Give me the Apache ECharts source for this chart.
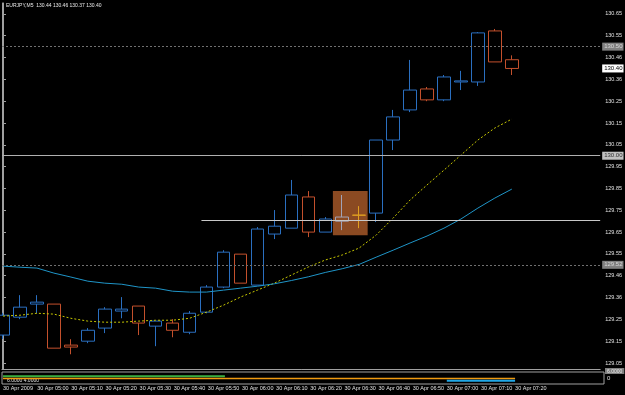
<!DOCTYPE html>
<html><head><meta charset="utf-8">
<script src="https://cdn.jsdelivr.net/npm/echarts@6/dist/echarts.min.js"></script>
<style>html,body{margin:0;padding:0;background:#000;}#c{width:625px;height:395px;}</style>
</head><body><div id="c"></div>
<script>
// ---------- data ----------
const chartTitle = 'EURJPY,M5  130.44 130.46 130.37 130.40';
const barTimes = ['04:50','04:55','05:00','05:05','05:10','05:15','05:20','05:25','05:30','05:35','05:40','05:45','05:50','05:55','06:00','06:05','06:10','06:15','06:20','06:25','06:30','06:35','06:40','06:45','06:50','06:55','07:00','07:05','07:10','07:15','07:20'];
const open  = [129.178,129.260,129.320,129.320,129.132,129.150,129.210,129.288,129.311,129.219,129.233,129.191,129.283,129.398,129.549,129.407,129.641,129.668,129.811,129.650,129.700,129.728,129.737,130.072,130.210,130.306,130.256,130.338,130.338,130.572,130.44];
const close = [129.269,129.306,129.329,129.118,129.123,129.200,129.297,129.297,129.233,129.242,129.200,129.278,129.398,129.558,129.416,129.664,129.677,129.820,129.650,129.710,129.719,129.727,130.072,130.178,130.301,130.256,130.361,130.343,130.563,130.430,130.40];
const low   = [129.160,129.251,129.278,129.118,129.090,129.141,129.187,129.255,129.178,129.127,129.168,129.182,129.278,129.393,129.416,129.407,129.618,129.668,129.627,129.650,129.659,129.668,129.696,130.026,130.200,130.250,130.250,130.301,130.320,130.430,130.37];
const high  = [129.280,129.361,129.361,129.320,129.159,129.210,129.306,129.352,129.311,129.242,129.251,129.288,129.407,129.567,129.549,129.673,129.751,129.889,129.838,129.719,129.820,129.769,130.072,130.210,130.439,130.315,130.370,130.389,130.567,130.581,130.46];
const maFast = [129.265,129.269,129.278,129.274,129.255,129.242,129.237,129.237,129.242,129.246,129.246,129.255,129.283,129.315,129.352,129.384,129.416,129.453,129.490,129.522,129.545,129.577,129.636,129.714,129.797,129.866,129.934,130.003,130.072,130.127,130.168];
const maSlow = [129.494,129.489,129.485,129.462,129.444,129.425,129.416,129.411,129.398,129.393,129.379,129.375,129.375,129.384,129.393,129.402,129.413,129.428,129.445,129.465,129.482,129.502,129.535,129.567,129.600,129.632,129.668,129.710,129.760,129.806,129.847];
const indGreen  = [6,6,6,6,6,6,6,6,6,6,6,6,6,6,'-','-','-','-','-','-','-','-','-','-','-','-','-','-','-','-','-'];
const indOrange = [4,4,4,4,4,4,4,4,4,4,4,4,4,4,4,4,4,4,4,4,4,4,4,4,4,4,4,4,4,4,4];
const indCyan   = ['-','-','-','-','-','-','-','-','-','-','-','-','-','-','-','-','-','-','-','-','-','-','-','-','-','-',2,2,2,2,2];
const indText = '6.0000 4.0000';
const timeTickIdx  = [0,2,4,6,8,10,12,14,16,18,20,22,24,26,28,30];
const timeTickText = ['30 Apr 2009','30 Apr 05:00','30 Apr 05:10','30 Apr 05:20','30 Apr 05:30','30 Apr 05:40','30 Apr 05:50','30 Apr 06:00','30 Apr 06:10','30 Apr 06:20','30 Apr 06:30','30 Apr 06:40','30 Apr 06:50','30 Apr 07:00','30 Apr 07:10','30 Apr 07:20'];
const priceTickValues = [129.05,129.15,129.25,129.35,129.45,129.55,129.65,129.75,129.85,129.95,130.05,130.15,130.25,130.35,130.45,130.55,130.65];
const priceTickText   = ['129.05','129.15','129.25','129.36','129.46','129.55','129.65','129.75','129.85','129.95','130.05','130.15','130.25','130.36','130.46','130.55','130.65'];
const levelUpper = 130.50, levelUpperText = '130.50';
const levelMid = 130.00, levelMidText = '130.00';
const levelLower = 129.50, levelLowerText = '129.52';
const bidPrice = 130.40, bidText = '130.40';
const trendLevel = 129.705, trendStartBar = 11.7;
const boxBars = [19.45, 21.5], boxPrices = [129.636, 129.838];
const indAxisText = '0', indBoxText = '6.0000';

// ---------- chart ----------
const FONT = 'Liberation Sans';
const BLUE = '#2a6fc0', RED = '#c4502c';
const candleRows = barTimes.map((t, i) => {
  const row = { value: [i, open[i], close[i], low[i], high[i]] };
  if (i === 20) row.itemStyle = { borderColor: '#a0a3b8', borderColor0: '#a0a3b8', color: '#8b4a22', color0: '#8b4a22' };
  if (i === 21) row.itemStyle = { borderColor: '#e0a020', borderColor0: '#e0a020', color: '#8b4a22', color0: '#8b4a22' };
  return row;
});
const xy = arr => arr.map((v, i) => [i, v]);
const boxLabel = (text, bg, fg) => ({
  show: true, position: 'end', distance: 2, formatter: text,
  backgroundColor: bg, color: fg, fontSize: 6, fontFamily: FONT,
  padding: [1, 1, 0, 2], lineHeight: 7
});

const chart = echarts.init(document.getElementById('c'), null, { renderer: 'canvas' });
chart.setOption({
  backgroundColor: '#000',
  animation: false,
  title: { text: chartTitle, left: 6, top: 3, padding: 0, textStyle: { color: '#e8e8e8', fontSize: 5, fontWeight: 'normal', fontFamily: FONT } },
  graphic: [
    { type: 'text', left: 7, top: 378, style: { text: indText, fill: '#e0e0e0', font: '5px ' + FONT } },
    { type: 'text', left: 607, top: 375, style: { text: indAxisText, fill: '#e0e0e0', font: '6px ' + FONT } },
    { type: 'text', left: 605, top: 368, style: { text: indBoxText, fill: '#e8e8e8', font: '5px ' + FONT, backgroundColor: '#808080', padding: [1, 2, 0, 2] } }
  ],
  grid: [
    { left: 2, width: 602, top: 3, height: 366 },
    { left: 2, width: 602, top: 372, height: 12, show: true, borderColor: '#a0a0a0', borderWidth: 1 }
  ],
  xAxis: [
    { type: 'value', gridIndex: 0, min: -0.06, max: 35.21, axisLine: { show: true, lineStyle: { color: '#a0a0a0' } },
      axisTick: { show: false }, axisLabel: { show: false }, splitLine: { show: false } },
    { type: 'value', gridIndex: 1, min: -0.06, max: 35.21, axisLine: { show: false },
      axisTick: { show: false }, splitLine: { show: false },
      axisLabel: { show: true, customValues: timeTickIdx, align: 'left', margin: 1, color: '#e0e0e0', fontSize: 5.5, fontFamily: FONT,
        formatter: v => { const k = timeTickIdx.indexOf(Math.round(v)); return k >= 0 ? timeTickText[k] : ''; } } }
  ],
  yAxis: [
    { type: 'value', gridIndex: 0, position: 'right', min: 129.0225, max: 130.7, scale: true,
      axisLine: { show: true, lineStyle: { color: '#a0a0a0' } },
      axisTick: { show: true, customValues: priceTickValues, length: 3, lineStyle: { color: '#a0a0a0' } },
      splitLine: { show: false },
      axisLabel: { show: true, customValues: priceTickValues, margin: 5, color: '#e0e0e0', fontSize: 5.5, fontFamily: FONT,
        formatter: v => { let k = -1; priceTickValues.forEach((p, j) => { if (Math.abs(p - v) < 1e-6) k = j; }); return k >= 0 ? priceTickText[k] : ''; } } },
    { type: 'value', gridIndex: 1, position: 'right', min: -1, max: 10, axisLine: { show: false }, axisTick: { show: false }, axisLabel: { show: false }, splitLine: { show: false } },
    { type: 'value', gridIndex: 0, position: 'left', min: 129.0225, max: 130.7, axisLine: { show: true, lineStyle: { color: '#a0a0a0' } }, axisTick: { show: false }, axisLabel: { show: false }, splitLine: { show: false } }
  ],
  series: [
    {
      type: 'candlestick', xAxisIndex: 0, yAxisIndex: 0, barWidth: 13,
      encode: { x: 0, y: [1, 2, 3, 4] },
      data: candleRows,
      itemStyle: { color: '#000', color0: '#000', borderColor: BLUE, borderColor0: RED, borderWidth: 1 },
      markArea: { silent: true, itemStyle: { color: '#8b4a22', opacity: 1 },
        data: [[{ xAxis: boxBars[0], yAxis: boxPrices[1] }, { xAxis: boxBars[1], yAxis: boxPrices[0] }]] },
      markLine: { silent: true, symbol: ['none', 'none'], animation: false,
        data: [
          { yAxis: levelUpper, lineStyle: { color: '#707070', type: [2, 2], width: 1 }, label: boxLabel(levelUpperText, '#808080', '#d8d8d8') },
          { yAxis: levelMid, lineStyle: { color: '#b0b0b0', type: 'solid', width: 1 }, label: boxLabel(levelMidText, '#c0c0c0', '#303030') },
          { yAxis: levelLower, lineStyle: { color: '#707070', type: [2, 2], width: 1 }, label: boxLabel(levelLowerText, '#808080', '#d8d8d8') },
          { yAxis: bidPrice, lineStyle: { color: 'rgba(0,0,0,0)', width: 0 }, label: boxLabel(bidText, '#ffffff', '#000000') },
          [ { coord: [trendStartBar, trendLevel], lineStyle: { color: '#c8c8c8', type: 'solid', width: 1 }, label: { show: false } },
            { coord: [35.21, trendLevel] } ]
        ] }
    },
    { type: 'line', xAxisIndex: 0, yAxisIndex: 0, data: xy(maFast), showSymbol: false, symbol: 'none',
      lineStyle: { color: '#c8c800', width: 1, type: [2, 2] }, z: 3 },
    { type: 'line', xAxisIndex: 0, yAxisIndex: 0, data: xy(maSlow), showSymbol: false, symbol: 'none',
      lineStyle: { color: '#1f95c8', width: 1 }, z: 3 },
    { type: 'line', xAxisIndex: 1, yAxisIndex: 1, data: xy(indGreen), symbol: 'none', lineStyle: { color: '#3cb040', width: 2 } },
    { type: 'line', xAxisIndex: 1, yAxisIndex: 1, data: xy(indOrange), symbol: 'none', lineStyle: { color: '#f09a10', width: 1.5 } },
    { type: 'line', xAxisIndex: 1, yAxisIndex: 1, data: xy(indCyan), symbol: 'none', lineStyle: { color: '#20a8e8', width: 2 } }
  ]
});
</script></body></html>
